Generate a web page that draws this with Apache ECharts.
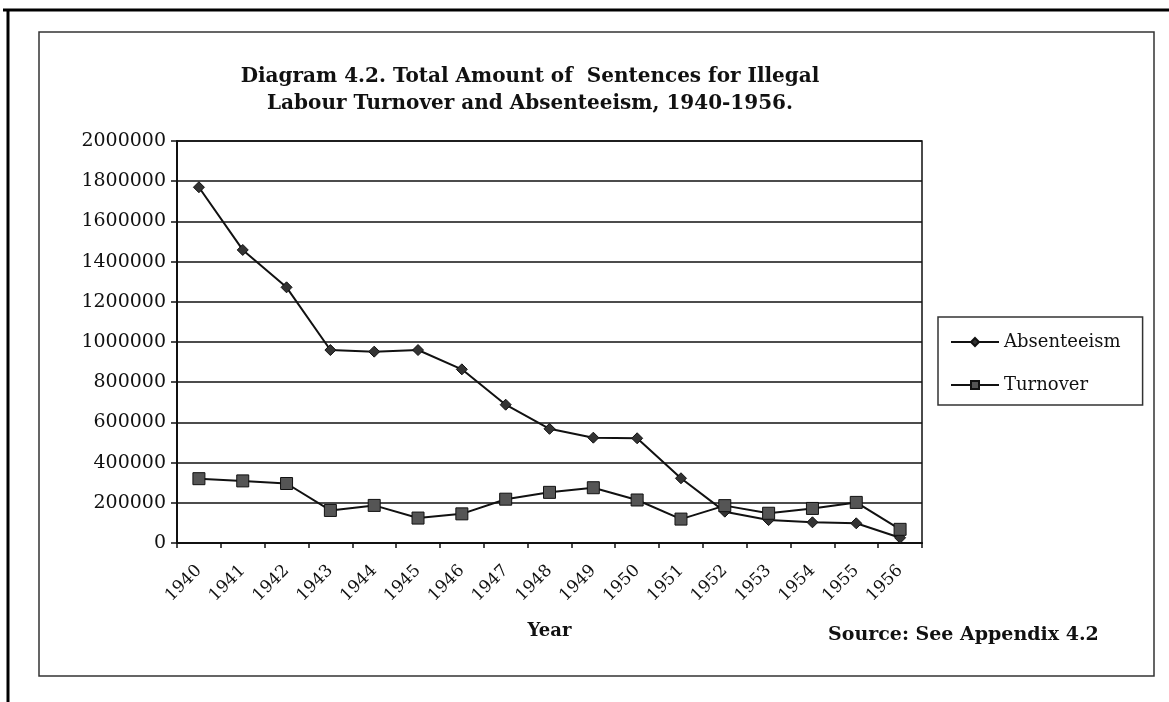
<!DOCTYPE html>
<html>
<head>
<meta charset="utf-8">
<script src="https://cdn.jsdelivr.net/npm/echarts@6/dist/echarts.min.js"></script>
<style>html,body{margin:0;padding:0;background:#fff}#c{width:1169px;height:702px}</style>
</head>
<body>
<div id="c"></div>
<script>
const years = ['1940','1941','1942','1943','1944','1945','1946','1947','1948','1949','1950','1951','1952','1953','1954','1955','1956'];
const absenteeism = [1770000,1458000,1272000,960000,952000,960000,864000,688000,568000,524000,521000,322000,156000,114000,103000,98000,26000];
const turnover = [320000,309000,296000,162000,187000,124000,145000,218000,252000,275000,214000,119000,186000,148000,172000,202000,68000];
const yTicks = [0,200000,400000,600000,800000,1000000,1200000,1400000,1600000,1800000,2000000];

const serif = '"DejaVu Serif", "Liberation Serif", serif';
const chart = echarts.init(document.getElementById('c'));
chart.setOption({
  animation: false,
  backgroundColor: '#fff',
  title: {
    text: 'Diagram 4.2. Total Amount of  Sentences for Illegal\nLabour Turnover and Absenteeism, 1940-1956.',
    left: 525, top: 58, textAlign: 'center',
    textStyle: { fontFamily: serif, fontWeight: 'bold', fontSize: 20, lineHeight: 27, color: '#111' }
  },
  legend: {
    orient: 'vertical', left: 938, top: 317,
    padding: [16, 22, 11, 12],
    borderColor: '#333', borderWidth: 1.5,
    itemWidth: 48, itemHeight: 10, itemGap: 25,
    textStyle: { fontFamily: serif, fontSize: 18, color: '#111' },
    data: ['Absenteeism', 'Turnover']
  },
  grid: { left: 177, right: 247, top: 141, bottom: 159, show: true, borderColor: '#111', borderWidth: 1.5, containLabel: false },
  xAxis: {
    type: 'category', data: years, boundaryGap: true,
    name: 'Year', nameLocation: 'middle', nameGap: 79,
    nameTextStyle: { fontFamily: serif, fontWeight: 'bold', fontSize: 18, color: '#111' },
    axisLine: { lineStyle: { color: '#111', width: 2 } },
    axisTick: { show: true, length: 5, lineStyle: { color: '#111', width: 1.5 } },
    axisLabel: { rotate: 45, fontFamily: serif, fontSize: 17, color: '#111', margin: 25 }
  },
  yAxis: {
    type: 'value', min: 0, max: 2000000, interval: 200000,
    axisLine: { show: true, lineStyle: { color: '#111', width: 2 } },
    axisTick: { show: true, length: 6, lineStyle: { color: '#111', width: 1.5 } },
    axisLabel: { fontFamily: serif, fontSize: 19, color: '#111', margin: 11,
      formatter: v => yTicks.includes(v) ? String(v) : '' },
    splitLine: { show: true, lineStyle: { color: '#111', width: 1.5 } }
  },
  series: [
    { name: 'Absenteeism', type: 'line', data: absenteeism,
      symbol: 'diamond', symbolSize: 11,
      itemStyle: { color: '#333', borderColor: '#111', borderWidth: 1 },
      lineStyle: { color: '#111', width: 2 } },
    { name: 'Turnover', type: 'line', data: turnover,
      symbol: 'rect', symbolSize: 12,
      itemStyle: { color: '#555', borderColor: '#111', borderWidth: 1 },
      lineStyle: { color: '#111', width: 2 } }
  ],
  graphic: [
    { type: 'line', shape: { x1: 3, y1: 10, x2: 1169, y2: 10 }, style: { stroke: '#000', lineWidth: 3 } },
    { type: 'line', shape: { x1: 8, y1: 10, x2: 8, y2: 702 }, style: { stroke: '#000', lineWidth: 3 } },
    { type: 'rect', shape: { x: 39, y: 32, width: 1115, height: 644 }, style: { fill: 'none', stroke: '#333', lineWidth: 1.5 }, z: -1 },
    { type: 'text', left: 828, top: 626,
      style: { text: 'Source: See Appendix 4.2', font: 'bold 19px ' + serif, fill: '#111' } }
  ]
});
</script>
</body>
</html>
